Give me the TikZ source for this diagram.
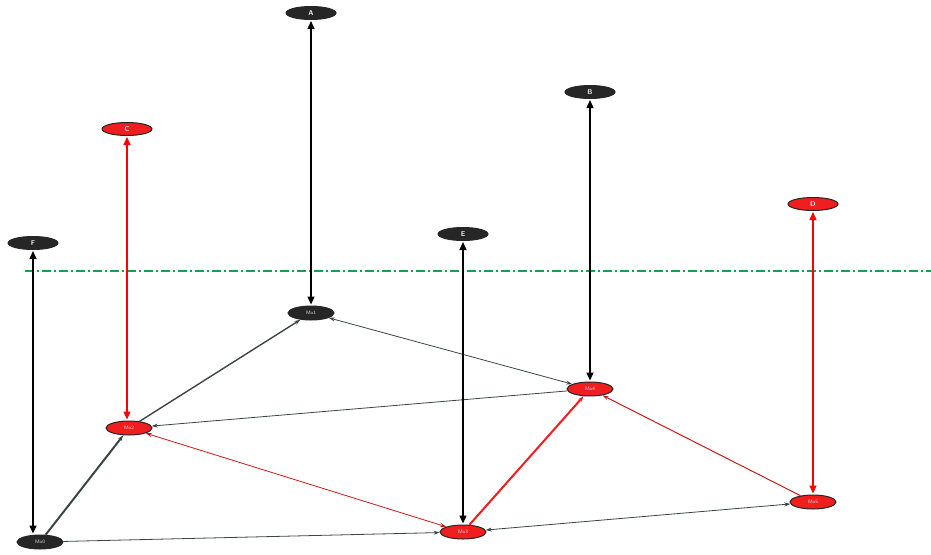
\documentclass[tikz,border=0pt]{standalone}
\usetikzlibrary{arrows.meta,shapes.geometric}
\definecolor{myred}{RGB}{240,30,30}
\definecolor{mygreen}{RGB}{20,160,80}
\definecolor{edgegray}{RGB}{60,70,65}
\begin{document}
\begin{tikzpicture}[x=1pt,y=-1pt,
  topnode/.style={ellipse,draw=black!85,line width=1pt,fill=#1,minimum width=50pt,minimum height=13pt,inner sep=0pt,text=white!85!gray,font=\sffamily\scriptsize\bfseries},
  lownode/.style={ellipse,draw=black!85,line width=1pt,fill=#1,minimum width=46pt,minimum height=14pt,inner sep=0pt,text=white!75!gray,font=\sffamily\tiny},
  vlink/.style={{Triangle[length=8pt,width=7pt]}-{Triangle[length=8pt,width=7pt]},line width=1.4pt,shorten <=1pt,shorten >=1pt},
  glink/.style={-{Stealth[length=6pt,width=4pt]},line width=#1},
  glink/.default=0.8pt]
\useasboundingbox (0,0) rectangle (931,554);
% top nodes
\node[topnode=black!85] (A) at (311,13) {A};
\node[topnode=myred] (C) at (127,129) {C};
\node[topnode=black!85] (F) at (33,243) {F};
\node[topnode=black!85] (E) at (463,234) {E};
\node[topnode=black!85] (B) at (590,92) {B};
\node[topnode=myred] (D) at (813,204) {D};
% lower nodes
\node[lownode=black!85] (P1) at (311,313) {Mo1};
\node[lownode=myred] (P2) at (129,428) {Mo2};
\node[lownode=black!85] (P0) at (40,542) {Mo0};
\node[lownode=myred] (P3) at (463,532) {Mo3};
\node[lownode=myred] (P4) at (590,389) {Mo4};
\node[lownode=myred] (P5) at (813,502) {Mo5};
% dash-dot level line
\coordinate (L1) at (25,271);
\coordinate (L2) at (931,271);
\draw[mygreen,line width=1.1pt,dash pattern=on 9pt off 3pt on 2pt off 3pt] (L1) -- (L2);
% graph edges
\draw[glink=2pt,edgegray] (P0) -- (P2);
\draw[glink=1.4pt,edgegray] (P2) -- (P1);
\draw[{Stealth[length=6pt,width=4pt]}-{Stealth[length=6pt,width=4pt]},line width=0.8pt,edgegray] (P1) -- (P4);
\draw[glink,edgegray] (P4) -- (P2);
\draw[glink,edgegray] (P0) -- (P3);
\draw[{Stealth[length=6pt,width=4pt]}-{Stealth[length=6pt,width=4pt]},line width=0.8pt,edgegray] (P3) -- (P5);
\draw[{Stealth[length=6pt,width=4pt]}-{Stealth[length=6pt,width=4pt]},line width=0.8pt,myred!85!black] (P2) -- (P3);
\draw[glink=2pt,myred] (P3) -- (P4);
\draw[glink=1pt,myred!85!black] (P5) -- (P4);
% vertical double arrows
\draw[vlink,black] (A) -- (P1);
\draw[vlink,black] (F) -- (F|-P0.north);
\draw[vlink,black] (E) -- (P3);
\draw[vlink,black] (B) -- (P4);
\draw[vlink,red] (C) -- (C|-P2.north);
\draw[vlink,red] (D) -- (P5);
\end{tikzpicture}
\end{document}
